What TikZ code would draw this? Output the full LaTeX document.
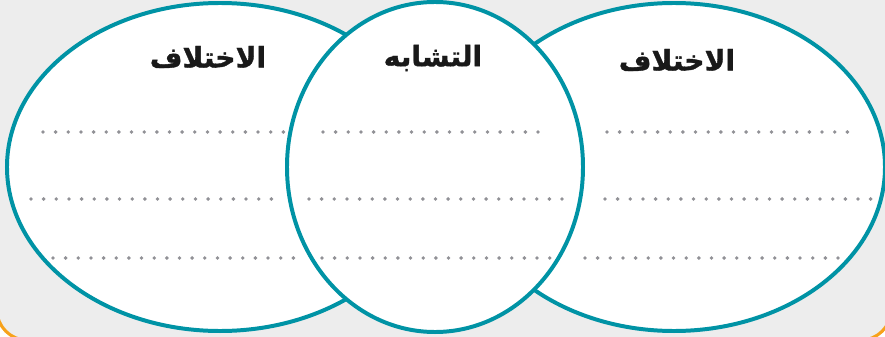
\documentclass[tikz,border=0pt]{standalone}
\usepackage{fontspec}
\usepackage{xcolor}
\usepackage{tikz}
\usetikzlibrary{shapes.geometric}
\TeXXeTstate=1
\newfontfamily\arabicfont[Script=Arabic, FakeBold=1.2]{DejaVu Sans Bold}
\definecolor{vennteal}{RGB}{0,147,165}
\definecolor{framegray}{RGB}{237,237,237}
\definecolor{frameorange}{RGB}{247,162,27}
\definecolor{dotgray}{RGB}{145,145,150}

\begin{document}
\begin{tikzpicture}[x=0.03cm, y=-0.03cm,
    venn/.style={ellipse, draw=vennteal, line width=3.4pt, fill=white, inner sep=0pt},
    title_lbl/.style={font=\arabicfont\fontsize{24}{28}\selectfont, text=black!90},
    dot_mark/.style={fill=dotgray}
  ]

  % canvas and frame
  \useasboundingbox (0,0) rectangle (885,337);
  \fill[white] (0,0) rectangle (885,337);
  \draw[frameorange, line width=2.6pt, fill=framegray, rounded corners=0.9cm] (-3,-40) rectangle (891,340);

  % outer sets
  \node[venn, minimum width=12.78cm, minimum height=9.84cm] (left) at (220,167) {};
  \node[venn, minimum width=12.66cm, minimum height=9.84cm] (right) at (674,167) {};

  % common part on top
  \node[venn, minimum width=8.88cm, minimum height=9.9cm] (mid) at (435,167) {};

  % headings
  \node[title_lbl] (diff_left) at (208,57) {\beginR الاختلاف\endR};
  \node[title_lbl] (same) at (433,58) {\beginR التشابه\endR};
  \node[title_lbl] (diff_right) at (677,60) {\beginR الاختلاف\endR};

  % writing lines (y / first dot / number of gaps)
  \foreach \y/\a/\n in {132/43/19, 132/323/17, 132/607/19,
                        199/31/19, 199/309/20, 199/605/21,
                        258/53/19, 258/322/18, 258/585/20}
    \foreach \k in {0,...,\n}
      \fill[dot_mark] (\a+\k*12.65,\y) circle[radius=1.65pt];

\end{tikzpicture}
\end{document}
